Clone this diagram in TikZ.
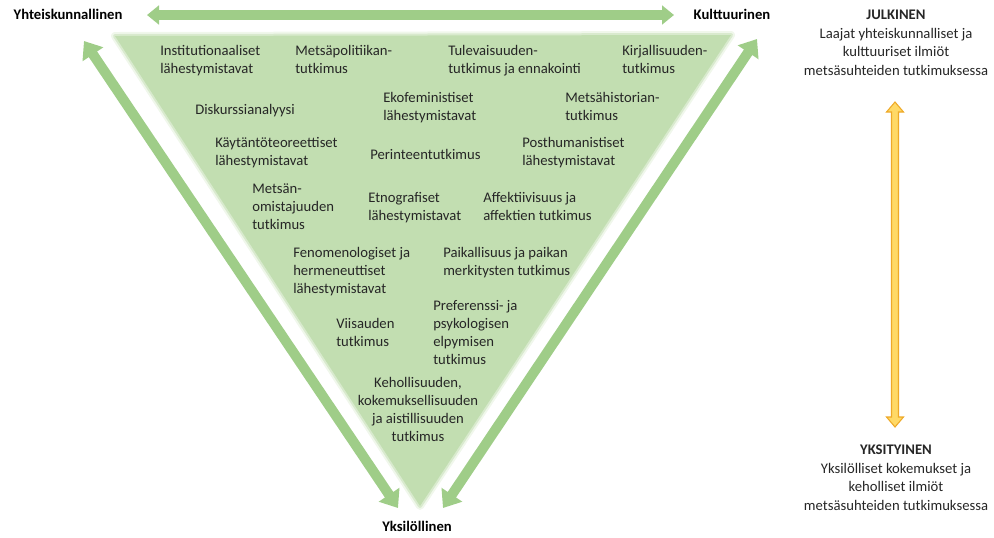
\documentclass[tikz,border=0pt]{standalone}
\usepackage{fontspec}
\setmainfont{Carlito}
\usetikzlibrary{arrows.meta,calc}
\definecolor{trigreen}{HTML}{C2DEB1}
\definecolor{arrgreen}{HTML}{9FCD88}
\definecolor{yfill}{HTML}{FFD966}
\definecolor{ydraw}{HTML}{EEA928}
\tikzset{
  topic/.style={font=\fontsize{11}{13.5}\selectfont, align=left, anchor=north west, yshift=6.1pt, inner sep=0pt, text=black!85, execute at begin node=\strut},
  axislabel/.style={font=\bfseries\fontsize{11}{13.5}\selectfont, anchor=base, inner sep=0pt},
  sidetext/.style={font=\fontsize{11}{14}\selectfont, align=center, anchor=north, yshift=6.3pt, inner sep=0pt, text=black!85, execute at begin node=\strut},
  garrow/.style={line width=7.5pt, draw=arrgreen, {Triangle[length=12pt,width=18pt]}-{Triangle[length=12pt,width=18pt]}},
  harrow/.style={line width=7.5pt, draw=arrgreen, {Triangle[length=9pt,width=14pt]}-{Triangle[length=9pt,width=14pt]}}
}
\begin{document}
\begin{tikzpicture}[x=0.75pt,y=-0.75pt]
\useasboundingbox (0,0) rectangle (994,537);
% soft-edged green triangle
\coordinate (tl) at (115,36);
\coordinate (tr) at (731,35);
\coordinate (tip) at (420,506);
\draw[trigreen, line width=6pt, opacity=0.25, line join=round] (tl) -- (tr) -- (tip) -- cycle;
\draw[trigreen, line width=3pt, opacity=0.5, line join=round] (tl) -- (tr) -- (tip) -- cycle;
\fill[trigreen] (tl) -- (tr) -- (tip) -- cycle;

% axis labels
\node[axislabel] (yht) at (68,19.5) {Yhteiskunnallinen};
\node[axislabel] (kul) at (732,19.5) {Kulttuurinen};
\node[axislabel] (yks) at (417,531) {Yksilöllinen};

% green arrows
\coordinate (hL) at (147,15);
\coordinate (hR) at (674,15);
\draw[harrow] (hL) -- (hR);
\coordinate (lT) at (84,41);
\coordinate (lB) at (398,508);
\draw[garrow] (lT) -- (lB);
\coordinate (rT) at (757,39);
\coordinate (rB) at (443,508);
\draw[garrow] (rT) -- (rB);

% topics (coordinates = centre-left of the first line)
\node[topic] (t1) at (160,53) {Institutionaaliset\\lähestymistavat};
\node[topic] (t2) at (295,53) {Metsäpolitiikan-\\tutkimus};
\node[topic] (t3) at (448,53) {Tulevaisuuden-\\tutkimus ja ennakointi};
\node[topic] (t4) at (622,53) {Kirjallisuuden-\\tutkimus};
\node[topic] (t5) at (195,110) {Diskurssianalyysi};
\node[topic] (t6) at (383,100) {Ekofeministiset\\lähestymistavat};
\node[topic] (t7) at (565,100) {Metsähistorian-\\tutkimus};
\node[topic] (t8) at (215,145) {Käytäntöteoreettiset\\lähestymistavat};
\node[topic] (t9) at (370,155) {Perinteentutkimus};
\node[topic] (t10) at (522,145) {Posthumanistiset\\lähestymistavat};
\node[topic] (t11) at (252,192) {Metsän-\\omistajuuden\\tutkimus};
\node[topic] (t12) at (368,200) {Etnografiset\\lähestymistavat};
\node[topic] (t13) at (483,200) {Affektiivisuus ja\\affektien tutkimus};
\node[topic] (t14) at (293,255) {Fenomenologiset ja\\hermeneuttiset\\lähestymistavat};
\node[topic] (t15) at (443,255) {Paikallisuus ja paikan\\merkitysten tutkimus};
\node[topic] (t16) at (336,326) {Viisauden\\tutkimus};
\node[topic] (t17) at (433,308) {Preferenssi- ja\\psykologisen\\elpymisen\\tutkimus};
\node[topic, align=center, anchor=north] (t18) at (418,385) {Kehollisuuden,\\kokemuksellisuuden\\ja aistillisuuden\\tutkimus};

% right side
\node[sidetext] (pub) at (896,18) {\textbf{JULKINEN}\\Laajat yhteiskunnalliset ja\\kulttuuriset ilmiöt\\metsäsuhteiden tutkimuksessa};
\node[sidetext] (priv) at (896,453) {\textbf{YKSITYINEN}\\Yksilölliset kokemukset ja\\keholliset ilmiöt\\metsäsuhteiden tutkimuksessa};

% yellow double arrow
\coordinate (yT) at (895,102);
\coordinate (yB) at (895,427);
\filldraw[fill=yfill, draw=ydraw, line width=0.8pt, line join=miter]
  (yT) -- ($(yT)+(8.5,10)$) -- ($(yT)+(3.5,10)$) -- ($(yB)+(3.5,-10)$) -- ($(yB)+(8.5,-10)$)
  -- (yB) -- ($(yB)+(-8.5,-10)$) -- ($(yB)+(-3.5,-10)$) -- ($(yT)+(-3.5,10)$) -- ($(yT)+(-8.5,10)$) -- cycle;
\end{tikzpicture}
\end{document}
